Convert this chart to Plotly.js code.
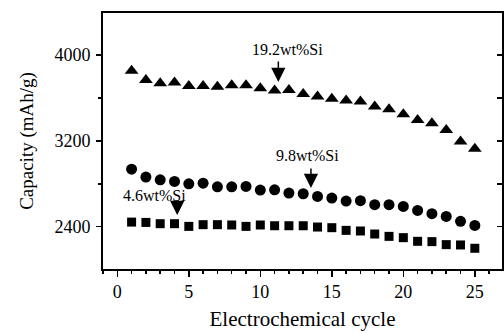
<!DOCTYPE html>
<html>
<head>
<meta charset="utf-8">
<script src="https://cdn.plot.ly/plotly-3.0.1.min.js"></script>
<style>html,body{margin:0;padding:0;background:#fff;}#chart{width:504px;height:333px;}</style>
</head>
<body>
<div id="chart"></div>
<script>
const cycles = [1,2,3,4,5,6,7,8,9,10,11,12,13,14,15,16,17,18,19,20,21,22,23,24,25];
const si192 = [3854,3767,3736,3743,3712,3712,3705,3718,3718,3690,3668,3674,3637,3612,3591,3575,3566,3519,3494,3448,3395,3364,3302,3194,3126];
const si98  = [2936,2862,2837,2822,2800,2806,2772,2772,2775,2741,2744,2713,2707,2682,2667,2639,2642,2605,2605,2589,2552,2521,2496,2450,2412];
const si46  = [2443,2440,2428,2428,2403,2419,2419,2416,2403,2416,2409,2409,2409,2397,2391,2366,2360,2332,2310,2298,2264,2261,2233,2230,2199];
const labels = ["19.2wt%Si","9.8wt%Si","4.6wt%Si"];
const labelPos = [[11.89,4047],[13.28,3068],[2.60,2695]];
const arrows = [[11.26,3953,3748],[13.54,2956,2761],[4.19,2630,2509]];

const font = "Liberation Serif, Times New Roman, serif";
const traces = [
  {x:cycles,y:si192,mode:'markers',type:'scatter',marker:{symbol:'triangle-up',size:12,color:'#000'}},
  {x:cycles,y:si98,mode:'markers',type:'scatter',marker:{symbol:'circle',size:11,color:'#000'}},
  {x:cycles,y:si46,mode:'markers',type:'scatter',marker:{symbol:'square',size:9,color:'#000'}},
  {x:[0],y:[3000],yaxis:'y2',mode:'markers',marker:{opacity:0},hoverinfo:'skip'}
];
const ann = [];
labels.forEach((t,i)=>{
  ann.push({x:labelPos[i][0],y:labelPos[i][1],text:t,showarrow:false,xanchor:'center',yanchor:'middle',font:{family:font,size:16,color:'#000'}});
  ann.push({x:arrows[i][0],y:arrows[i][2],ax:arrows[i][0],ay:arrows[i][1],axref:'x',ayref:'y',text:'',showarrow:true,arrowhead:2,arrowsize:1.9,arrowwidth:1.5,arrowcolor:'#000',standoff:0,startstandoff:0});
});
const layout = {
  width:504,height:333,
  margin:{l:103,r:2,t:13,b:64},
  paper_bgcolor:'#fff',plot_bgcolor:'#fff',
  showlegend:false,
  font:{family:font,color:'#000'},
  xaxis:{range:[-1,26.9],tickvals:[0,5,10,15,20,25],ticks:'outside',ticklen:6,tickwidth:1.5,tickcolor:'#000',
    minor:{dtick:1,tick0:0,ticks:'outside',ticklen:3,tickwidth:1.5,tickcolor:'#000'},
    showgrid:false,zeroline:false,showline:true,linewidth:1.8,linecolor:'#000',mirror:true,
    tickfont:{family:font,size:18,color:'#000'},
    title:{text:'Electrochemical cycle',font:{family:font,size:21,color:'#000'},standoff:10}},
  yaxis:{range:[2006,4391],tickvals:[2400,3200,4000],ticks:'outside',ticklen:5,tickwidth:1.5,tickcolor:'#000',
    minor:{tickvals:[2800,3600],ticks:'outside',ticklen:3,tickwidth:1.5,tickcolor:'#000'},
    showgrid:false,zeroline:false,showline:true,linewidth:1.8,linecolor:'#000',mirror:true,
    tickfont:{family:font,size:18,color:'#000'},ticklabelstandoff:2,
    title:{text:'Capacity (mAh/g)',font:{family:font,size:19,color:'#000'},standoff:16}},
  yaxis2:{overlaying:'y',side:'right',range:[2006,4391],tickvals:[2400,2800,3200,3600,4000],ticks:'inside',ticklen:5,tickwidth:1.5,tickcolor:'#000',
    showticklabels:false,showgrid:false,zeroline:false,showline:false},
  annotations:ann
};
Plotly.newPlot('chart',traces,layout,{staticPlot:true});
</script>
</body>
</html>
